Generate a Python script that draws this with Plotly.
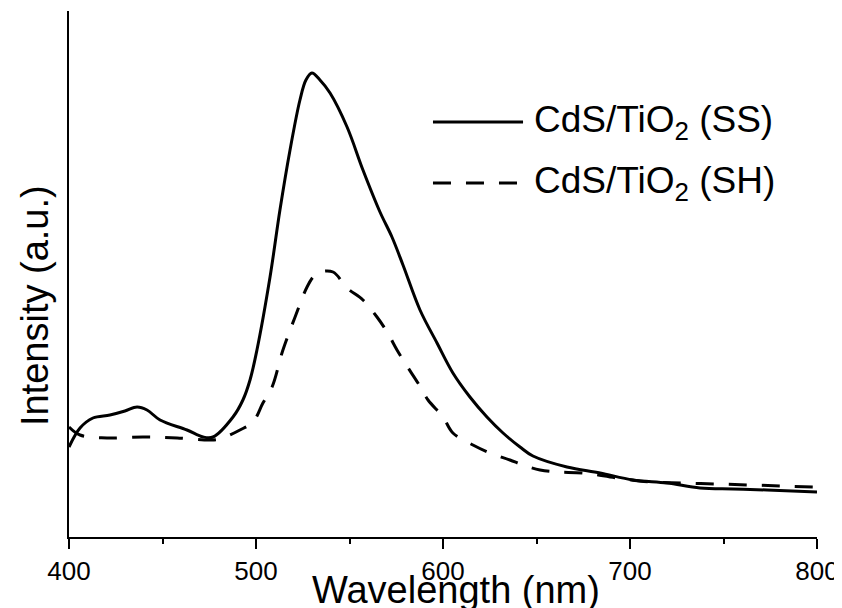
import plotly.graph_objects as go

# CdS/TiO2 (SS) – solid
ss_wl = [400, 405.9, 412.8, 421.9, 429.9, 436.4, 441.7, 448.7, 463.1, 471.7, 477.0,
         487.7, 493.0, 496.8, 500.5, 507.5, 512.8, 518.2, 523.5, 526.7, 529.9, 534.2,
         539.6, 548.7, 557.2, 566.3, 572.7, 578.6, 587.7, 596.8, 605.3, 614.4, 623.5,
         632.1, 641.2, 648.1, 666.3, 684.0, 701.6, 719.8, 737.4, 755.1, 773.3, 800]
ss_int = [90, 109, 119, 122, 126, 130, 127, 117, 107, 100, 100,
          120, 137, 157, 187, 260, 327, 387, 437, 457, 464, 457,
          444, 410, 367, 325, 300, 272, 227, 194, 164, 140, 120,
          104, 90, 81, 70, 64, 57, 54, 49, 48, 47, 45]

# CdS/TiO2 (SH) – dashed
sh_wl = [400, 405.9, 420.3, 439.6, 457.8, 475.4, 480.7, 491.4, 498.4, 503.7, 508.6,
         514.4, 520.9, 527.3, 531.0, 534.2, 541.2, 548.7, 557.2, 564.7, 570.1, 575.4,
         580.7, 586.6, 592.0, 600.0, 605.3, 616.0, 625.1, 635.8, 642.8, 651.9, 661.0,
         674.9, 693.0, 710.7, 728.3, 746.5, 764.2, 781.8, 797.9, 800]
sh_int = [110, 102, 99, 100, 99, 97, 98, 107, 115, 134, 150,
          187, 220, 250, 261, 265, 265, 249, 237, 220, 205, 187,
          171, 154, 137, 120, 104, 92, 84, 77, 72, 67, 65,
          64, 59, 55, 54, 53, 52, 51, 50, 50]

x_ticks = [400, 500, 600, 700, 800]
legend_labels = ["CdS/TiO<sub>2</sub> (SS)", "CdS/TiO<sub>2</sub> (SH)"]

FONT = "Arial, Liberation Sans, sans-serif"

fig = go.Figure()
fig.add_trace(go.Scatter(x=ss_wl, y=ss_int, mode="lines", line=dict(color="black", width=3),
                         line_shape="spline", name=legend_labels[0], showlegend=False))
fig.add_trace(go.Scatter(x=sh_wl, y=sh_int, mode="lines",
                         line=dict(color="black", width=3, dash="18px,15px"),
                         line_shape="spline", name=legend_labels[1], showlegend=False))

# manual legend
leg_y = [0.789, 0.673]
dashes = ["solid", "18px,15px"]
for lbl, yy, d in zip(legend_labels, leg_y, dashes):
    fig.add_shape(type="line", xref="paper", yref="paper", x0=0.4866, x1=0.607, y0=yy, y1=yy,
                  line=dict(color="black", width=3, dash=d))
    fig.add_annotation(xref="paper", yref="paper", x=0.619, y=yy, text=lbl, showarrow=False,
                       xanchor="left", yanchor="middle", font=dict(family=FONT, size=37, color="black"))

# axis titles
fig.add_annotation(xref="paper", yref="paper", x=0.517, y=-0.1008, text="Wavelength (nm)",
                   showarrow=False, xanchor="center", yanchor="middle",
                   font=dict(family=FONT, size=38, color="black"))
fig.add_annotation(xref="paper", yref="paper", x=-0.0461, y=0.44, text="Intensity (a.u.)",
                   showarrow=False, textangle=-90, xanchor="center", yanchor="middle",
                   font=dict(family=FONT, size=38, color="black"))

# page body has an 8px default margin, so the figure is 8px smaller than the window
fig.update_layout(
    width=834, height=600,
    margin=dict(l=61, r=25, t=3, b=71),
    paper_bgcolor="white", plot_bgcolor="white",
    font=dict(family=FONT, color="black"),
    showlegend=False,
)
fig.update_xaxes(range=[400, 800], tickvals=x_ticks, ticks="outside", ticklen=10, tickwidth=2,
                 tickcolor="black", showline=True, linecolor="black", linewidth=2,
                 showgrid=False, zeroline=False, tickfont=dict(family=FONT, size=26, color="black"),
                 ticklabeloverflow="allow",
                 minor=dict(dtick=50, tick0=400, ticks="outside", ticklen=5, tickwidth=2, tickcolor="black"))
fig.update_yaxes(range=[0, 526], showticklabels=False, ticks="", showline=True, linecolor="black",
                 linewidth=2, showgrid=False, zeroline=False)

fig.write_html("out.html")
